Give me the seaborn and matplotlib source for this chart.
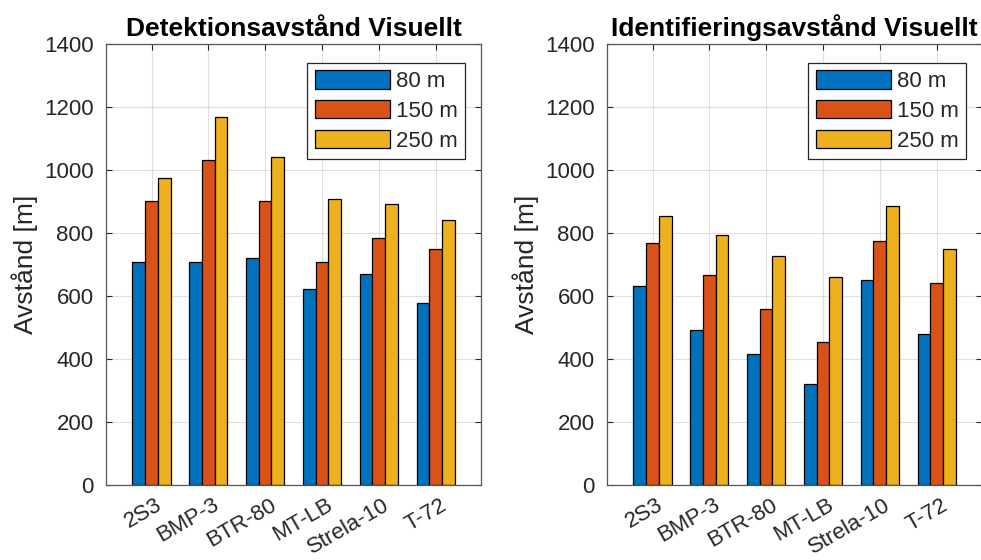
import numpy as np
import pandas as pd
import matplotlib
matplotlib.use("Agg")
import matplotlib.pyplot as plt
import matplotlib.transforms as mtransforms
import seaborn as sns

# ── Data ─────────────────────────────────────────────────────────────────────
vehicles = ["2S3", "BMP-3", "BTR-80", "MT-LB", "Strela-10", "T-72"]
ranges = ["80 m", "150 m", "250 m"]

det_80 = [708, 708, 720, 620, 668, 578]
det_150 = [900, 1032, 900, 708, 785, 747]
det_250 = [974, 1168, 1040, 909, 893, 840]

id_80 = [631, 492, 416, 320, 650, 477]
id_150 = [769, 665, 558, 454, 774, 642]
id_250 = [853, 792, 727, 661, 884, 749]

titles = ["Detektionsavstånd Visuellt", "Identifieringsavstånd Visuellt"]
ylabel = "Avstånd [m]"
yticks = [0, 200, 400, 600, 800, 1000, 1200, 1400]

# ── Style ────────────────────────────────────────────────────────────────────
COLORS = ["#0072BD", "#D95319", "#EDB120"]
AXCOL = "#262626"

sns.set_theme(style="white")
plt.rcParams["font.family"] = ["Liberation Sans", "DejaVu Sans"]


def long_frame(s80, s150, s250):
    rows = []
    for name, vals in zip(ranges, [s80, s150, s250]):
        for v, val in zip(vehicles, vals):
            rows.append({"vehicle": v, "range": name, "value": val})
    return pd.DataFrame(rows)


def draw(ax, df, title):
    sns.barplot(data=df, x="vehicle", y="value", hue="range",
                order=vehicles, hue_order=ranges, palette=COLORS,
                width=0.67, gap=0, edgecolor="black", linewidth=0.9,
                saturation=1, errorbar=None, ax=ax, zorder=3)
    ax.set_xlim(-0.8, 5.8)
    ax.set_ylim(0, 1400)
    ax.set_yticks(yticks)
    ax.set_yticklabels([str(t) for t in yticks], fontsize=16, color=AXCOL)
    ax.set_xticks(range(len(vehicles)))
    ax.set_xticklabels([])
    # rotated category labels, placed below/right of the tick like MATLAB
    base = mtransforms.blended_transform_factory(ax.transData, ax.transAxes)
    off = mtransforms.ScaledTranslation(0.04, -0.10, ax.figure.dpi_scale_trans)
    for i, name in enumerate(vehicles):
        ax.text(i, 0, name, transform=base + off, fontsize=16, color=AXCOL,
                rotation=30, ha="right", va="top", rotation_mode="anchor")
    ax.set_xlabel("")
    ax.set_ylabel(ylabel, fontsize=19, color=AXCOL, labelpad=4)
    ax.set_title(title, fontsize=19, fontweight="bold", color="black", pad=6)

    ax.grid(True, color="#000000", alpha=0.12, linewidth=0.8, zorder=0)
    ax.set_axisbelow(True)
    ax.tick_params(direction="in", length=4, width=0.8, color=AXCOL,
                   top=True, right=True, left=True, bottom=True)
    ax.tick_params(axis="y", pad=9)
    for sp in ax.spines.values():
        sp.set_visible(True)
        sp.set_color("#555555")
        sp.set_linewidth(0.9)
        sp.set_zorder(5)

    handles, labels = ax.get_legend_handles_labels()
    leg = ax.legend(handles, labels, loc="upper right",
                    bbox_to_anchor=(0.958, 0.957), fontsize=16,
                    frameon=True, fancybox=False, framealpha=1,
                    edgecolor="#262626", handlelength=3.4, handleheight=0.9,
                    labelspacing=0.35, borderpad=0.33, handletextpad=0.27,
                    borderaxespad=0)
    leg.get_frame().set_linewidth(0.9)
    for t in leg.get_texts():
        t.set_color(AXCOL)


fig = plt.figure(figsize=(9.81, 5.6), dpi=100)
ax1 = fig.add_axes([0.1081, 0.1348, 0.3823, 0.7866])
ax2 = fig.add_axes([0.6188, 0.1348, 0.3823, 0.7866])

draw(ax1, long_frame(det_80, det_150, det_250), titles[0])
draw(ax2, long_frame(id_80, id_150, id_250), titles[1])

fig.savefig("out.png", dpi=100)
